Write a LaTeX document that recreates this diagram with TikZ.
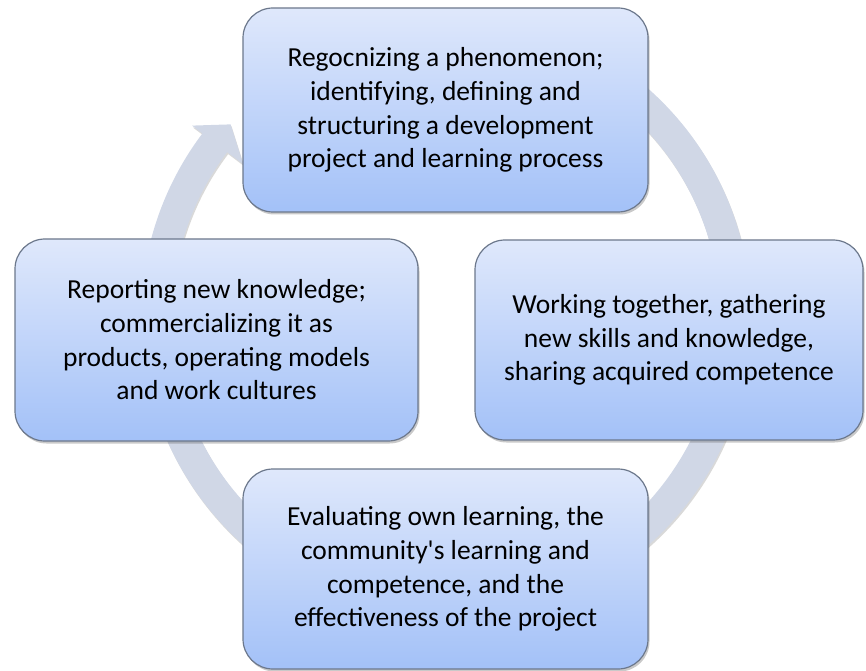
\documentclass[tikz,border=0pt]{standalone}
\usepackage{fontspec}
\setmainfont{Carlito}
\newfontfamily\stagefont{Carlito}
\usepackage{tikz}
\usetikzlibrary{shadows}
\definecolor{boxtop}{RGB}{223,232,251}
\definecolor{boxbottom}{RGB}{163,193,248}
\definecolor{boxedge}{RGB}{108,120,140}
\definecolor{ringcol}{RGB}{208,215,230}

\begin{document}
\begin{tikzpicture}[x=1pt, y=1pt,
	stage/.style={draw=boxedge, line width=1.2pt, rounded corners=30pt, top color=boxtop, bottom color=boxbottom, align=center, inner sep=0pt, font=\stagefont\fontsize{27.5}{33.7}\selectfont, drop shadow={shadow xshift=1.5pt, shadow yshift=-2.5pt, opacity=0.3, fill=black!70}}]
		%%%%% START %%%%%
		
		\useasboundingbox (0, 0) rectangle (866, 670);
		
		% cycle ring behind the boxes
		\begin{scope}[shift={(446, 353)}]
			\fill[ringcol, drop shadow={shadow xshift=1pt, shadow yshift=-2pt, opacity=0.15, fill=black}] (90:305) arc[start angle=90, end angle=-217, radius=305] -- (143:318) -- (138.2:289) -- (143:254) -- (143:274) arc[start angle=-217, end angle=90, radius=274] -- cycle;
		\end{scope}
		
		\node[stage, minimum width=405, minimum height=204] (recognize) at (445.5, 560) {Regocnizing a phenomenon;\\identifying, defining and\\structuring a development\\project and learning process};
		
		\node[stage, minimum width=388, minimum height=200] (work) at (669, 330) {Working together, gathering\\new skills and knowledge,\\sharing acquired competence};
		
		\node[stage, minimum width=405, minimum height=200] (evaluate) at (445.5, 101) {Evaluating own learning, the\\community's learning and\\competence, and the\\effectiveness of the project};
		
		\node[stage, minimum width=403, minimum height=202] (report) at (216.5, 330) {Reporting new knowledge;\\commercializing it as\\products, operating models\\and work cultures};
		
		%%%%% END %%%%%
	\end{tikzpicture}
\end{document}
